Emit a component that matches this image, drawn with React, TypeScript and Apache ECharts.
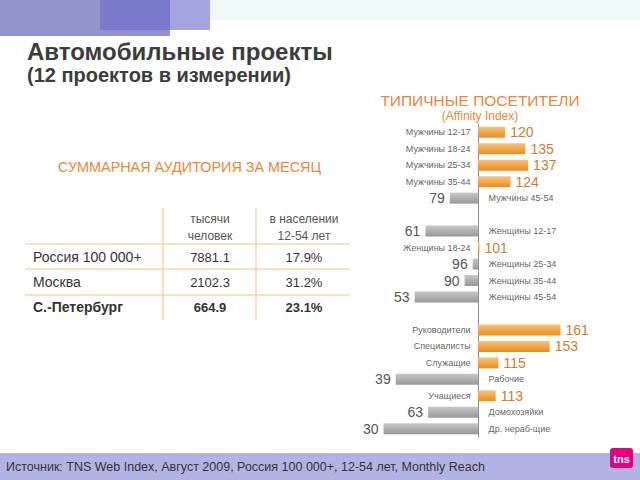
import React, { useEffect, useRef } from "react";
import * as echarts from "echarts";

const menCats = ["Мужчины 12-17", "Мужчины 18-24", "Мужчины 25-34", "Мужчины 35-44", "Мужчины 45-54"];
const menVals = [120, 135, 137, 124, 79];
const womenCats = ["Женщины 12-17", "Женщины 18-24", "Женщины 25-34", "Женщины 35-44", "Женщины 45-54"];
const womenVals = [61, 101, 96, 90, 53];
const occCats = ["Руководители", "Специалисты", "Служащие", "Рабочие", "Учащиеся", "Домохозяйки", "Др. нераб-щие"];
const occVals = [161, 153, 115, 39, 113, 63, 30];
const baseIndex = 100;

const tableHeader1 = ["тысячи", "человек"];
const tableHeader2 = ["в населении", "12-54 лет"];
const tableRegions = ["Россия 100 000+", "Москва", "С.-Петербург"];
const tableThousands = ["7881.1", "2102.3", "664.9"];
const tableShares = ["17.9%", "31.2%", "23.1%"];

const FONT = "'Liberation Sans', Arial, sans-serif";
const ORANGE = "#E8863A";

export default function App() {
  const ref = useRef<HTMLDivElement>(null);
  useEffect(() => {
    if (!ref.current) return;
    const chart = echarts.init(ref.current, null, { renderer: "svg" });

    const cats: string[] = [];
    const vals: (number | null)[] = [];
    const groups = [
      [menCats, menVals],
      [womenCats, womenVals],
      [occCats, occVals],
    ] as [string[], number[]][];
    groups.forEach(([c, v], gi) => {
      if (gi > 0) {
        cats.push(" ".repeat(gi));
        vals.push(null);
      }
      c.forEach((name, i) => {
        cats.push(name);
        vals.push(v[i]);
      });
    });

    const orangeGrad = new echarts.graphic.LinearGradient(0, 0, 0, 1, [
      { offset: 0, color: "#FAC27A" },
      { offset: 0.5, color: "#F4A847" },
      { offset: 1, color: "#E08F2E" },
    ]);
    const grayGrad = new echarts.graphic.LinearGradient(0, 0, 0, 1, [
      { offset: 0, color: "#C8C8C8" },
      { offset: 0.5, color: "#B0B0B0" },
      { offset: 1, color: "#989898" },
    ]);

    const barData = vals.map((v) => {
      if (v === null) return { value: null };
      const pos = v >= baseIndex;
      return {
        value: v - baseIndex,
        itemStyle: { color: pos ? orangeGrad : grayGrad },
        label: {
          show: true,
          position: pos ? "right" : "left",
          distance: 5,
          color: pos ? "#D07A30" : "#555555",
          fontSize: 14,
          fontFamily: FONT,
          formatter: () => String(v),
        },
      };
    });

    const nameData = vals.map((v, i) => {
      if (v === null) return { value: [null, cats[i]] };
      const pos = v >= baseIndex;
      return {
        value: [0, cats[i]],
        label: {
          show: true,
          position: pos ? "left" : "right",
          distance: pos ? 7 : 10,
          color: "#333333",
          fontSize: 9,
          fontFamily: FONT,
          formatter: () => cats[i],
        },
      };
    });

    const graphic: any[] = [
      { type: "rect", shape: { x: 210, y: 0, width: 430, height: 20 }, style: { fill: "#EEF8F7" } },
      { type: "rect", shape: { x: 0, y: 0, width: 170, height: 36 }, style: { fill: "#9494CC" } },
      { type: "rect", shape: { x: 100, y: 0, width: 110, height: 30 }, style: { fill: "#A4A4E0", opacity: 1 } },
      { type: "rect", shape: { x: 100, y: 0, width: 70, height: 30 }, style: { fill: "#7A7ACC" } },
      {
        type: "text", x: 27, y: 51,
        style: { text: "Автомобильные проекты", font: `bold 24px ${FONT}`, fill: "#3C3C3C", verticalAlign: "middle" },
      },
      {
        type: "text", x: 27, y: 75,
        style: { text: "(12 проектов в измерении)", font: `bold 20px ${FONT}`, fill: "#3C3C3C", verticalAlign: "middle" },
      },
      {
        type: "text", x: 480, y: 100,
        style: { text: "ТИПИЧНЫЕ ПОСЕТИТЕЛИ", font: `15.5px ${FONT}`, fill: ORANGE, align: "center", verticalAlign: "middle" },
      },
      {
        type: "text", x: 480, y: 116,
        style: { text: "(Affinity Index)", font: `12px ${FONT}`, fill: ORANGE, align: "center", verticalAlign: "middle" },
      },
      {
        type: "text", x: 58, y: 167,
        style: { text: "СУММАРНАЯ АУДИТОРИЯ ЗА МЕСЯЦ", font: `14.4px ${FONT}`, fill: ORANGE, verticalAlign: "middle" },
      },
      // table lines
      { type: "line", shape: { x1: 163, y1: 208, x2: 163, y2: 320 }, style: { stroke: "#F5C27A", lineWidth: 1 } },
      { type: "line", shape: { x1: 256, y1: 208, x2: 256, y2: 320 }, style: { stroke: "#F5C27A", lineWidth: 1 } },
      { type: "line", shape: { x1: 25, y1: 244, x2: 350, y2: 244 }, style: { stroke: "#F5C27A", lineWidth: 1 } },
      { type: "line", shape: { x1: 25, y1: 269, x2: 350, y2: 269 }, style: { stroke: "#F5C27A", lineWidth: 1 } },
      { type: "line", shape: { x1: 25, y1: 295, x2: 350, y2: 295 }, style: { stroke: "#F5C27A", lineWidth: 1 } },
      // footer
      { type: "rect", shape: { x: 0, y: 453, width: 640, height: 27 }, style: { fill: "#B3B3E3" } },
      {
        type: "text", x: 6, y: 467,
        style: {
          text: "Источник: TNS Web Index, Август 2009, Россия 100 000+, 12-54 лет, Monthly Reach",
          font: `12.5px ${FONT}`, fill: "#333333", verticalAlign: "middle",
        },
      },
      { type: "rect", shape: { x: 610, y: 448, width: 23, height: 20, r: 3 }, style: { fill: "#E6007E" } },
      {
        type: "text", x: 621.5, y: 459,
        style: { text: "tns", font: `bold 11px ${FONT}`, fill: "#FFFFFF", align: "center", verticalAlign: "middle" },
      },
    ];

    tableHeader1.forEach((t, i) =>
      graphic.push({
        type: "text", x: 210, y: 219 + i * 17,
        style: { text: t, font: `12px ${FONT}`, fill: "#555555", align: "center", verticalAlign: "middle" },
      })
    );
    tableHeader2.forEach((t, i) =>
      graphic.push({
        type: "text", x: 304, y: 219 + i * 17,
        style: { text: t, font: `12px ${FONT}`, fill: "#555555", align: "center", verticalAlign: "middle" },
      })
    );
    tableRegions.forEach((t, i) => {
      const y = 257 + i * 25;
      const bold = i === tableRegions.length - 1;
      graphic.push({
        type: "text", x: 33, y,
        style: { text: t, font: `${bold ? "bold " : ""}14px ${FONT}`, fill: "#333333", verticalAlign: "middle" },
      });
      graphic.push({
        type: "text", x: 210, y,
        style: { text: tableThousands[i], font: `${bold ? "bold " : ""}13px ${FONT}`, fill: "#333333", align: "center", verticalAlign: "middle" },
      });
      graphic.push({
        type: "text", x: 304, y,
        style: { text: tableShares[i], font: `${bold ? "bold " : ""}13px ${FONT}`, fill: "#333333", align: "center", verticalAlign: "middle" },
      });
    });

    chart.setOption({
      animation: false,
      backgroundColor: "#FFFFFF",
      grid: { left: 370, right: 20, top: 124, bottom: 43 },
      xAxis: {
        type: "value",
        min: -80,
        max: 105,
        show: false,
      },
      yAxis: {
        type: "category",
        data: cats,
        inverse: true,
        axisLine: { show: true, onZero: true, lineStyle: { color: "#8A8A8A", width: 1 } },
        axisTick: { show: false },
        axisLabel: { show: false },
      },
      series: [
        {
          type: "bar",
          data: barData,
          barWidth: 11,
          silent: true,
        },
        {
          type: "scatter",
          data: nameData,
          symbolSize: 1,
          itemStyle: { color: "rgba(0,0,0,0)" },
          silent: true,
        },
      ],
      graphic,
    });
    return () => chart.dispose();
  }, []);
  return <div ref={ref} style={{ position: "fixed", left: 0, top: 0, width: 640, height: 480 }} />;
}
